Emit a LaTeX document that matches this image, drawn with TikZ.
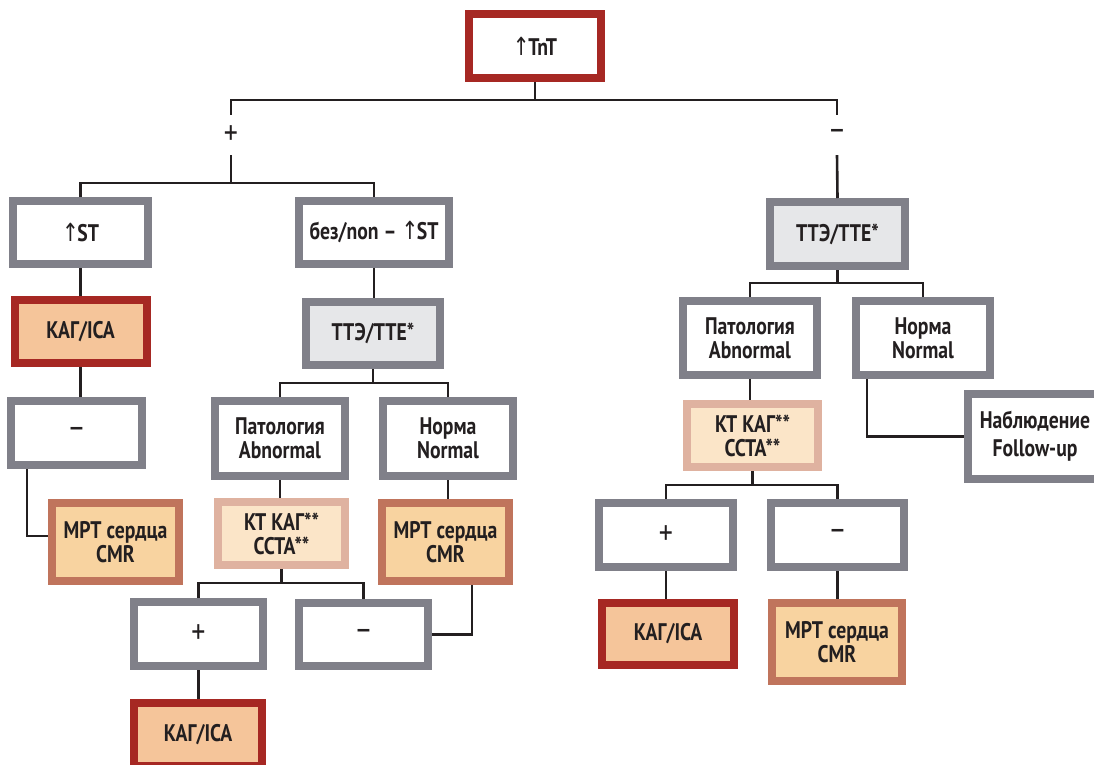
\documentclass[tikz,border=0pt]{standalone}
\usepackage{fontspec}
\setmainfont{PT Sans}[FakeStretch=0.82]
\newfontfamily\arrowfont{DejaVu Sans}[FakeStretch=0.8]
\usetikzlibrary{positioning}

\definecolor{boxgray}{RGB}{128,128,137}
\definecolor{redline}{RGB}{166,40,35}
\definecolor{icafill}{RGB}{245,197,154}
\definecolor{cmrline}{RGB}{192,116,92}
\definecolor{cmrfill}{RGB}{248,211,160}
\definecolor{ctaline}{RGB}{223,178,160}
\definecolor{ctafill}{RGB}{251,229,200}
\definecolor{ttefill}{RGB}{230,231,233}
\definecolor{inkcol}{RGB}{35,31,32}

\newcommand{\boxfont}{\fontsize{24}{24}\selectfont}
\newcommand{\signsize}{\fontsize{34}{34}\selectfont}
\newcommand{\tnup}{{\arrowfont\mdseries\fontsize{25}{24}\selectfont ↑}\kern-1.5pt}

\begin{document}
\begin{tikzpicture}[
			x=1pt, y=-1pt,
			graybox/.style={rectangle, draw=boxgray, line width=8pt, fill=white, minimum width=132pt, minimum height=64pt, inner sep=0pt, align=center, text=inkcol, font=\boxfont\bfseries},
			signbox/.style={graybox, font=\signsize},
			twobox/.style={graybox, minimum width=130pt, minimum height=75pt},
			ttebox/.style={graybox, fill=ttefill, minimum width=135pt},
			redbox/.style={graybox, draw=redline},
			icabox/.style={redbox, fill=icafill},
			cmrbox/.style={graybox, draw=cmrline, fill=cmrfill, minimum width=127pt, minimum height=78pt},
			ctabox/.style={graybox, draw=ctaline, fill=ctafill, minimum width=127pt, minimum height=63pt},
			sign/.style={minimum height=40pt, inner sep=0pt, text=inkcol, font=\signsize},
			conn/.style={draw=inkcol, line width=2.6pt}
		]
		\useasboundingbox (0,0) rectangle (1094,764);

		% --- VERTICE ---
		\node (tnt) [redbox] at (535,46) {\tnup TnT};
		\node (plus) [sign] at (231,135) {+};
		\node (minus) [sign] at (837,135) {–};

		% --- RAMO + ---
		\node (st) [graybox, minimum width=135pt, minimum height=63pt] at (80.5,232.5) {\tnup ST};
		\node (nonst) [graybox, minimum width=150pt, minimum height=63pt] at (374,232.5) {без/non – \tnup ST};

		% colonna sinistra
		\node (icaA) [icabox, minimum height=63pt] at (80.5,331.5) {КАГ/ICA};
		\node (negA) [signbox, minimum width=131pt] at (76.5,433) {–};
		\node (cmrA) [cmrbox] at (115.5,542) {МРТ сердца\\CMR};

		% colonna centrale
		\node (tteM) [ttebox, minimum width=134pt, minimum height=63pt] at (373,333.5) {ТТЭ/TTE*};
		\node (abnM) [twobox] at (280,438.5) {Патология\\Abnormal};
		\node (normM) [twobox] at (448,438.5) {Норма\\Normal};
		\node (ctaM) [ctabox] at (281.5,533.5) {КТ КАГ**\\CCTA**};
		\node (cmrM) [cmrbox] at (445.5,542) {МРТ сердца\\CMR};
		\node (posM) [signbox, minimum width=129pt] at (198.5,634) {+};
		\node (negM) [signbox, minimum width=129pt, minimum height=63pt] at (363.5,634.5) {–};
		\node (icaM) [icabox, minimum width=128pt, minimum height=63pt] at (198,734.5) {КАГ/ICA};

		% --- RAMO – ---
		\node (tteR) [ttebox] at (837.5,234) {ТТЭ/TTE*};
		\node (abnR) [twobox, minimum width=134pt, minimum height=74pt] at (750,338) {Патология\\Abnormal};
		\node (normR) [twobox, minimum width=134pt, minimum height=74pt] at (923,338) {Норма\\Normal};
		\node (ctaR) [ctabox, minimum width=131pt] at (752.5,435.5) {КТ КАГ**\\CCTA**};
		\node (fupR) [twobox, minimum width=134pt, minimum height=85pt] at (1035,436.5) {Наблюдение\\[4pt]Follow-up};
		\node (posR) [signbox, minimum width=134pt] at (666,535) {+};
		\node (negR) [signbox, minimum width=133pt] at (837.5,535) {–};
		\node (icaR) [icabox, minimum height=62pt] at (668,634) {КАГ/ICA};
		\node (cmrR) [cmrbox, minimum width=130pt] at (837,642) {МРТ сердца\\CMR};

		% --- COLLEGAMENTI ---
		\coordinate (topbus) at (535,100);
		\coordinate (busL) at (231,183);
		\coordinate (busM) at (373,383);
		\coordinate (busC) at (281.5,583);
		\coordinate (busR) at (837.5,283);
		\coordinate (busRC) at (752.5,485);

		% vertice
		\draw [conn] (tnt) -- (topbus);
		\draw [conn] (plus.north) |- (topbus) -| (minus.north);
		\draw [conn] (plus.south) -- (busL);
		\draw [conn] (st.north) |- (busL) -| (nonst.north);
		\draw [conn] (minus.south) -- (tteR.north);

		% ramo + , sinistra
		\draw [conn] (st.south) -- (st.south |- icaA.north);
		\draw [conn] (icaA.south) -- (icaA.south |- negA.north);
		\draw [conn] ([xshift=-49.5pt]negA.south) |- ([yshift=6pt]cmrA.west);

		% ramo + , centro
		\draw [conn] (nonst.south) -- (nonst.south |- tteM.north);
		\draw [conn] (tteM) -- (busM);
		\draw [conn] (abnM.north) |- (busM) -| (normM.north);
		\draw [conn] (abnM.south) -- (abnM.south |- ctaM.north);
		\draw [conn] (normM.south) -- (normM.south |- cmrM.north);
		\draw [conn] (ctaM) -- (busC);
		\draw [conn] (posM.north) |- (busC) -| (negM.north);
		\draw [conn] (posM.south) -- (posM.south |- icaM.north);
		\draw [conn] ([xshift=26.5pt]cmrM.south) |- (negM.east);

		% ramo –
		\draw [conn] (tteR) -- (busR);
		\draw [conn] (abnR.north) |- (busR) -| (normR.north);
		\draw [conn] (abnR.south) -- (abnR.south |- ctaR.north);
		\draw [conn] (ctaR) -- (busRC);
		\draw [conn] (posR.north) |- (busRC) -| (negR.north);
		\draw [conn] (posR.south) -- (posR.south |- icaR.north);
		\draw [conn] (negR.south) -- (negR.south |- cmrR.north);
		\draw [conn] ([xshift=-56pt]normR.south) |- (fupR.west);
	\end{tikzpicture}
\end{document}
